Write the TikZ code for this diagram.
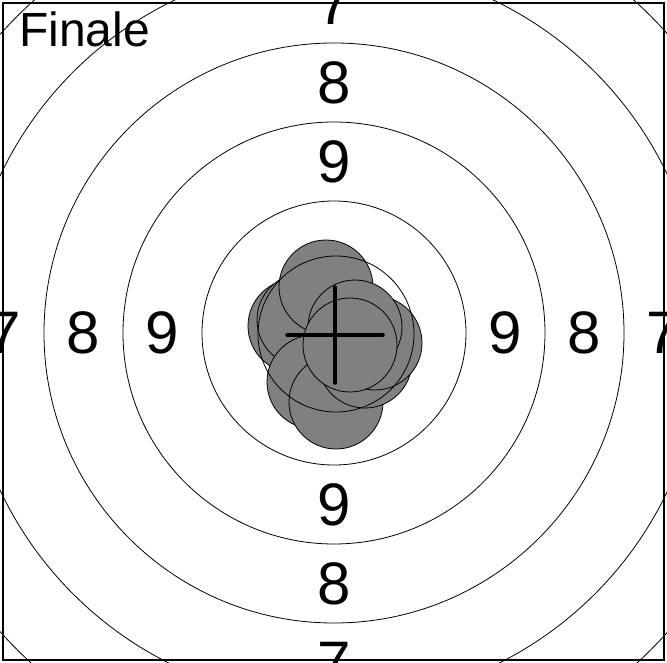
\documentclass[tikz,border=0pt]{standalone}
\usepackage{fontspec}
\setmainfont{Liberation Sans}

\begin{document}
\begin{tikzpicture}[x=1pt, y=-1pt]
    \tikzstyle{ring} = [draw, line width=0.8pt]
    \tikzstyle{shot} = [draw, fill=gray, line width=0.8pt]
    \tikzstyle{ringlabel} = [font=\fontsize{60}{60}\selectfont, inner sep=0pt]

    \useasboundingbox (0,0) rectangle (667,663);
    \fill[white] (0,0) rectangle (667,663);
    \clip (0,0) rectangle (667,663);

    \coordinate (centre) at (334,333);

    % rings 10 to 6
    \foreach \r in {132,211,290,369,448}
        \draw[ring] (centre) circle[radius=\r pt];

    % ring numbers
    \foreach \n/\d in {9/171.5, 8/250.5, 7/329.5} {
        \node[ringlabel] (top\n) at (334,333-\d) {\n};
        \node[ringlabel] (bottom\n) at (334,333+\d) {\n};
        \node[ringlabel] (left\n) at (334-\d,333) {\n};
        \node[ringlabel] (right\n) at (334+\d,333) {\n};
    }

    \node[font=\fontsize{48}{48}\selectfont, anchor=base west, inner sep=0pt] (title) at (19,47) {Finale};

    % hits
    \foreach \x/\y in {295/326, 304/320, 326/287, 314/382, 336/402, 365/361, 375/343, 355/327, 350/345}
        \draw[shot] (\x,\y) circle[radius=47pt];

    \draw[ring] (336,334) circle[radius=78pt];

    % mean point
    \draw[line width=3.5pt, line cap=round] (287,335) -- (383,335);
    \draw[line width=3.5pt, line cap=round] (335,287) -- (335,383);

    \draw[line width=1.5pt] (3,3) rectangle (664,660);
\end{tikzpicture}
\end{document}
